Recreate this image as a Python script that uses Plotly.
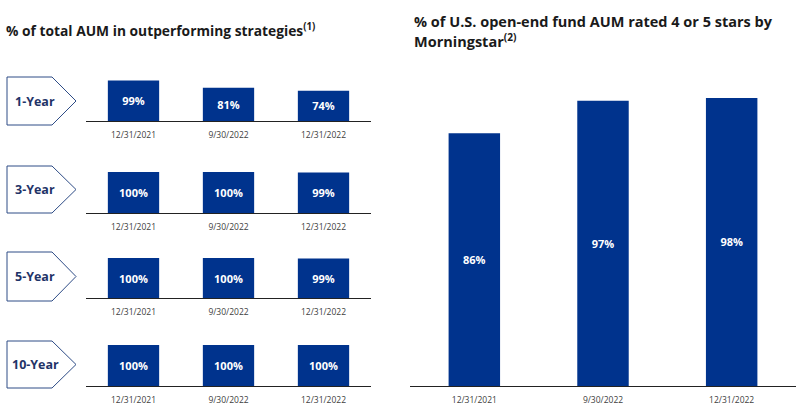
import plotly.graph_objects as go

W, H = 796, 411
NAVY = "#00338D"
DARK = "#1a1a1a"
FONT = "Open Sans"

dates = ["12/31/2021", "9/30/2022", "12/31/2022"]
periods = ["1-Year", "3-Year", "5-Year", "10-Year"]
outperf_1y = [99, 81, 74]
outperf_3y = [100, 100, 99]
outperf_5y = [100, 100, 99]
outperf_10y = [100, 100, 100]
morningstar = [86, 97, 98]

left_series = [outperf_1y, outperf_3y, outperf_5y, outperf_10y]

def fx(px):
    return px / W

def fy(px):
    return 1 - px / H

fig = go.Figure()

# layout geometry (pixels)
left_x = (86, 371)
left_rows = [(121, 41), (213, 41), (298, 40), (386, 41)]  # baseline, height of 100%
right_x = (410, 796)
right_row = (386, 294)

tickfont = dict(family=FONT, size=8.5, color="#404040")
barfont = dict(family=FONT, size=11, color="white", weight="bold")

layout_axes = {}
for i, (vals, (base, h100)) in enumerate(zip(left_series, left_rows)):
    n = i + 1
    xa = "x" if n == 1 else f"x{n}"
    ya = "y" if n == 1 else f"y{n}"
    fig.add_trace(go.Bar(
        x=dates, y=vals, xaxis=xa, yaxis=ya,
        marker=dict(color=NAVY, line=dict(width=0)),
        width=0.54,
        text=[f"{v}%" for v in vals], textposition="inside",
        insidetextanchor="middle", textfont=barfont,
        hoverinfo="skip", showlegend=False,
    ))
    xkey = "xaxis" if n == 1 else f"xaxis{n}"
    ykey = "yaxis" if n == 1 else f"yaxis{n}"
    layout_axes[xkey] = dict(
        domain=[fx(left_x[0]), fx(left_x[1])], anchor=ya,
        type="category", range=[-0.5, 2.5],
        showline=True, linecolor="#222222", linewidth=1.3,
        showgrid=False, zeroline=False, ticks="", ticklabelstandoff=6,
        tickfont=tickfont, fixedrange=True,
    )
    layout_axes[ykey] = dict(
        domain=[fy(base), fy(base - h100)], anchor=xa,
        range=[0, 100], visible=False, fixedrange=True,
    )

# right panel
fig.add_trace(go.Bar(
    x=dates, y=morningstar, xaxis="x5", yaxis="y5",
    marker=dict(color=NAVY, line=dict(width=0)),
    width=0.40,
    text=[f"{v}%" for v in morningstar], textposition="inside",
    insidetextanchor="middle", textfont=barfont,
    hoverinfo="skip", showlegend=False,
))
layout_axes["xaxis5"] = dict(
    domain=[fx(right_x[0]), fx(right_x[1])], anchor="y5",
    type="category", range=[-0.5, 2.5],
    showline=True, linecolor="#222222", linewidth=1.3,
    showgrid=False, zeroline=False, ticks="", ticklabelstandoff=6,
    tickfont=tickfont, fixedrange=True,
)
layout_axes["yaxis5"] = dict(
    domain=[fy(right_row[0]), fy(right_row[0] - right_row[1])], anchor="x5",
    range=[0, 100], visible=False, fixedrange=True,
)

# chevron labels
chevrons = [(77, 125), (166, 213), (252, 301), (341, 388)]
shapes = []
annotations = []
for label, (top, bot) in zip(periods, chevrons):
    mid = (top + bot) / 2
    path = (f"M {fx(7)},{fy(top)} L {fx(52)},{fy(top)} L {fx(76)},{fy(mid)} "
            f"L {fx(52)},{fy(bot)} L {fx(7)},{fy(bot)} Z")
    shapes.append(dict(type="path", xref="paper", yref="paper", path=path,
                       line=dict(color="#2E4C86", width=1), fillcolor="white",
                       layer="below"))
    annotations.append(dict(x=fx(35), y=fy(mid), xref="paper", yref="paper",
                            text=f"<b>{label}</b>", showarrow=False,
                            xanchor="center", yanchor="middle",
                            font=dict(family=FONT, size=12.5, color="#1F3468")))

annotations.append(dict(
    x=fx(4), y=fy(30), xref="paper", yref="paper", xanchor="left", yanchor="middle",
    text="<b>% of total AUM in outperforming strategies<sup>(1)</sup></b>",
    showarrow=False, font=dict(family=FONT, size=13.8, color=DARK)))
annotations.append(dict(
    x=fx(412), y=fy(21), xref="paper", yref="paper", xanchor="left", yanchor="middle",
    text="<b>% of U.S. open-end fund AUM rated 4 or 5 stars by</b>",
    showarrow=False, font=dict(family=FONT, size=14.5, color=DARK)))
annotations.append(dict(
    x=fx(412), y=fy(40), xref="paper", yref="paper", xanchor="left", yanchor="middle",
    text="<b>Morningstar<sup>(2)</sup></b>",
    showarrow=False, font=dict(family=FONT, size=14.5, color=DARK)))

fig.update_layout(
    width=W, height=H,
    margin=dict(l=0, r=0, t=0, b=0),
    paper_bgcolor="white", plot_bgcolor="white",
    shapes=shapes, annotations=annotations,
    uniformtext=dict(minsize=11, mode="show"),
    **layout_axes,
)

fig.write_html("out.html", config={"displayModeBar": False},
               post_script="document.body.style.margin='0px';")
